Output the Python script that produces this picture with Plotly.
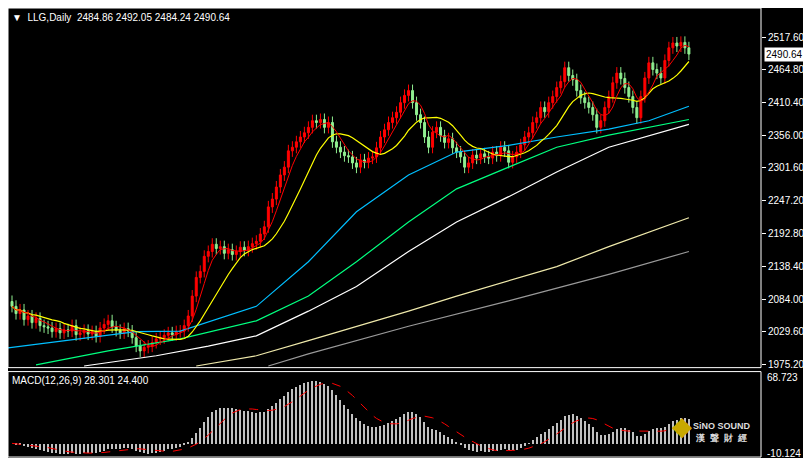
import plotly.graph_objects as go
import pandas as pd

closes = [2072,2060,2066,2050,2056,2045,2052,2040,2038,2036,
2030,2035,2028,2033,2031,2040,2025,2028,2032,2026,
2030,2022,2036,2042,2048,2038,2032,2028,2035,2031,
2020,2006,1998,2004,2006,2012,2018,2020,2024,2028,
2025,2030,2031,2040,2056,2089,2120,2130,2155,2163,
2175,2168,2171,2160,2166,2158,2163,2170,2165,2171,
2176,2180,2192,2204,2237,2250,2270,2290,2303,2330,
2336,2345,2353,2360,2369,2380,2377,2382,2369,2377,
2345,2336,2328,2322,2320,2310,2303,2315,2311,2318,
2320,2335,2353,2365,2377,2385,2394,2410,2422,2430,
2410,2390,2377,2353,2336,2361,2369,2355,2344,2350,
2335,2328,2320,2303,2310,2323,2318,2325,2320,2318,
2328,2322,2336,2330,2311,2320,2328,2340,2353,2360,
2377,2385,2402,2395,2410,2420,2435,2445,2468,2455,
2448,2430,2418,2410,2402,2390,2369,2380,2402,2420,
2443,2459,2450,2435,2420,2402,2385,2420,2451,2476,
2465,2459,2451,2480,2501,2509,2504,2510,2501,2490.64]
first_open = 2080

# long moving averages read at sampled candle indices
ma_idx = [-1, 31, 42, 61, 74, 86, 99, 111, 124, 136, 149, 159, 169]
ma_blue = [2003, 2030, 2031, 2072, 2146, 2229, 2290, 2328, 2339, 2353, 2366, 2380, 2404]
g_idx = [6, 24, 42, 61, 74, 86, 99, 111, 124, 136, 149, 169]
ma_green = [1975, 1998, 2018, 2048, 2089, 2146, 2212, 2267, 2303, 2336, 2356, 2382]
w_idx = [18, 36, 49, 61, 74, 86, 99, 111, 124, 136, 149, 169]
ma_white = [1973, 1990, 2006, 2023, 2064, 2105, 2163, 2212, 2254, 2295, 2336, 2374]
k_idx = [46, 61, 74, 99, 111, 124, 136, 149, 169]
ma_khaki = [1973, 1990, 2015, 2064, 2089, 2114, 2138, 2171, 2219]
s_idx = [64, 74, 99, 124, 149, 169]
ma_grey = [1973, 1993, 2039, 2081, 2125, 2163]

price_ticks = [2517.60, 2464.80, 2410.40, 2356.00, 2301.60, 2247.20, 2192.80, 2138.40, 2084.00, 2029.60, 1975.20]

n = len(closes)
idx = list(range(n))
opens = [first_open] + closes[:-1]
highs = [max(o, c) + 10 for o, c in zip(opens, closes)]
lows = [min(o, c) - 10 for o, c in zip(opens, closes)]
s = pd.Series(closes)
ma5 = s.rolling(5, min_periods=1).mean()
ma13 = s.rolling(13, min_periods=1).mean()
macd = s.ewm(span=12, adjust=False).mean() - s.ewm(span=26, adjust=False).mean()
signal = macd.rolling(9, min_periods=1).mean()

fig = go.Figure()
for xs, ys, col in [(s_idx, ma_grey, '#999999'), (k_idx, ma_khaki, '#EEE8AA'), (w_idx, ma_white, '#FFFFFF'),
                    (g_idx, ma_green, '#00FF7F'), (ma_idx, ma_blue, '#00BFFF')]:
    fig.add_trace(go.Scatter(x=xs, y=ys, mode='lines', line=dict(color=col, width=1.2), yaxis='y', hoverinfo='skip'))
fig.add_trace(go.Candlestick(x=idx, open=opens, high=highs, low=lows, close=closes,
    increasing=dict(line=dict(color='#FF0000', width=1), fillcolor='#FF0000'),
    decreasing=dict(line=dict(color='#90EE90', width=1), fillcolor='#90EE90'),
    whiskerwidth=0))
fig.add_trace(go.Scatter(x=idx, y=ma13, mode='lines', line=dict(color='#FFFF00', width=1.2)))
fig.add_trace(go.Scatter(x=idx, y=ma5, mode='lines', line=dict(color='#FF0000', width=1)))
fig.add_trace(go.Bar(x=idx, y=macd, marker=dict(color='#C0C0C0', line_width=0), width=0.3, yaxis='y2', xaxis='x2'))
fig.add_trace(go.Scatter(x=idx, y=signal, mode='lines', line=dict(color='#FF0000', width=1, dash='dash'), yaxis='y2', xaxis='x2'))

ax = dict(showgrid=False, zeroline=False, showticklabels=False, range=[-1, 187], fixedrange=True)
fig.update_layout(
    width=805, height=458, margin=dict(l=0, r=52, t=0, b=0),
    paper_bgcolor='black', plot_bgcolor='black', showlegend=False, bargap=0,
    font=dict(family='Liberation Sans', size=10, color='white'),
    xaxis=dict(**ax, rangeslider=dict(visible=False)),
    xaxis2=dict(**ax, anchor='y2'),
    yaxis=dict(domain=[0.2096, 1], range=[1970.3, 2567.05], side='right', showgrid=False, zeroline=False,
               tickvals=price_ticks, ticktext=[f'{v:.2f}' for v in price_ticks], ticks='outside',
               ticklen=4, tickcolor='white', tickfont=dict(size=10)),
    yaxis2=dict(domain=[0.0131, 0.2009], range=[-14.3, 74.9], side='right', showgrid=False, zeroline=False,
                showticklabels=False, anchor='x2'),
)
for y0, y1 in [(0.2096, 1), (0.0131, 0.2009)]:
    fig.add_shape(type='rect', xref='paper', yref='paper', x0=0, x1=1, y0=y0, y1=y1,
                  line=dict(color='white', width=1))
fig.add_annotation(xref='paper', yref='paper', x=0.003, y=0.995, xanchor='left', yanchor='top', showarrow=False,
                   text='▼  LLG,Daily  2484.86 2492.05 2484.24 2490.64', font=dict(size=10))
fig.add_annotation(xref='paper', yref='paper', x=0.003, y=0.197, xanchor='left', yanchor='top', showarrow=False,
                   text='MACD(12,26,9) 28.301 24.400', font=dict(size=10))
fig.add_annotation(xref='paper', yref='y', x=1.0, y=2490.64, xanchor='left', showarrow=False, xshift=3,
                   text='2490.64', bgcolor='white', font=dict(size=10, color='black'))
fig.add_annotation(xref='paper', yref='y2', x=1.005, y=68.723, xanchor='left', showarrow=False, text='68.723')
fig.add_annotation(xref='paper', yref='y2', x=1.005, y=-10.124, xanchor='left', showarrow=False, text='-10.124')
fig.add_annotation(xref='paper', yref='paper', x=0.99, y=0.04, xanchor='right', yanchor='bottom', showarrow=False,
                   text='<b>SiNO SOUND</b><br><b>漢  聲  財  經</b>', font=dict(size=9, color='#DDDDDD'))
fig.add_annotation(xref='paper', yref='paper', x=0.895, y=0.045, xanchor='center', yanchor='bottom', showarrow=False,
                   text='◆', font=dict(size=26, color='#C8A800'))
fig.write_html('out.html')
